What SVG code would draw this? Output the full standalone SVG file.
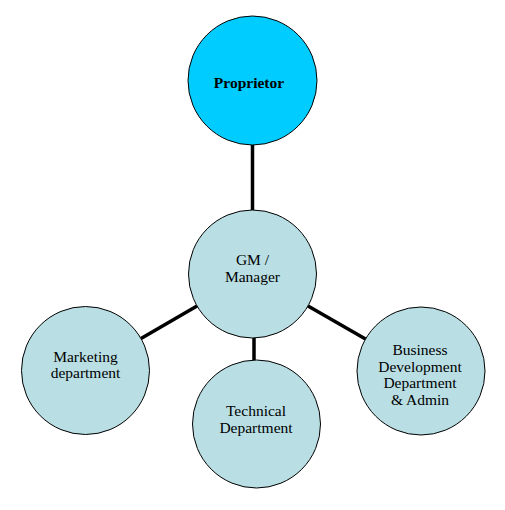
<svg xmlns="http://www.w3.org/2000/svg" width="505" height="510" viewBox="0 0 505 510">
<style>
.n{fill:#B9DFE4;stroke:#000;stroke-width:1}
.t{font-family:"Liberation Serif","Times New Roman",serif;font-size:15.5px;fill:#000;text-anchor:middle}
.c line{stroke:#000;stroke-width:3.5}
</style>
<rect width="505" height="510" fill="#fff"/>
<g class="c" id="connectors">
<line x1="252.5" y1="145" x2="252.5" y2="210"/>
<line x1="197" y1="306" x2="141" y2="338.5"/>
<line x1="308" y1="306" x2="365.5" y2="339"/>
<line x1="254" y1="338" x2="254" y2="361"/>
</g>
<g id="proprietor">
<circle cx="252.5" cy="80.5" r="64.5" fill="#00CCFF" stroke="#000" stroke-width="1"/>
<text class="t" x="249" y="88" font-weight="bold">Proprietor</text>
</g>
<g id="gm">
<circle class="n" cx="252.5" cy="274" r="64"/>
<text class="t" x="252.5" y="265">GM /</text>
<text class="t" x="252.5" y="282">Manager</text>
</g>
<g id="marketing">
<circle class="n" cx="85.5" cy="370.5" r="64"/>
<text class="t" x="85.5" y="362">Marketing</text>
<text class="t" x="85.5" y="378">department</text>
</g>
<g id="technical">
<circle class="n" cx="256.5" cy="424" r="64"/>
<text class="t" x="256" y="416">Technical</text>
<text class="t" x="256" y="433">Department</text>
</g>
<g id="business">
<circle class="n" cx="421" cy="371" r="64"/>
<text class="t" x="420" y="355">Business</text>
<text class="t" x="420" y="372">Development</text>
<text class="t" x="420" y="388">Department</text>
<text class="t" x="420" y="405">&amp; Admin</text>
</g>
</svg>
